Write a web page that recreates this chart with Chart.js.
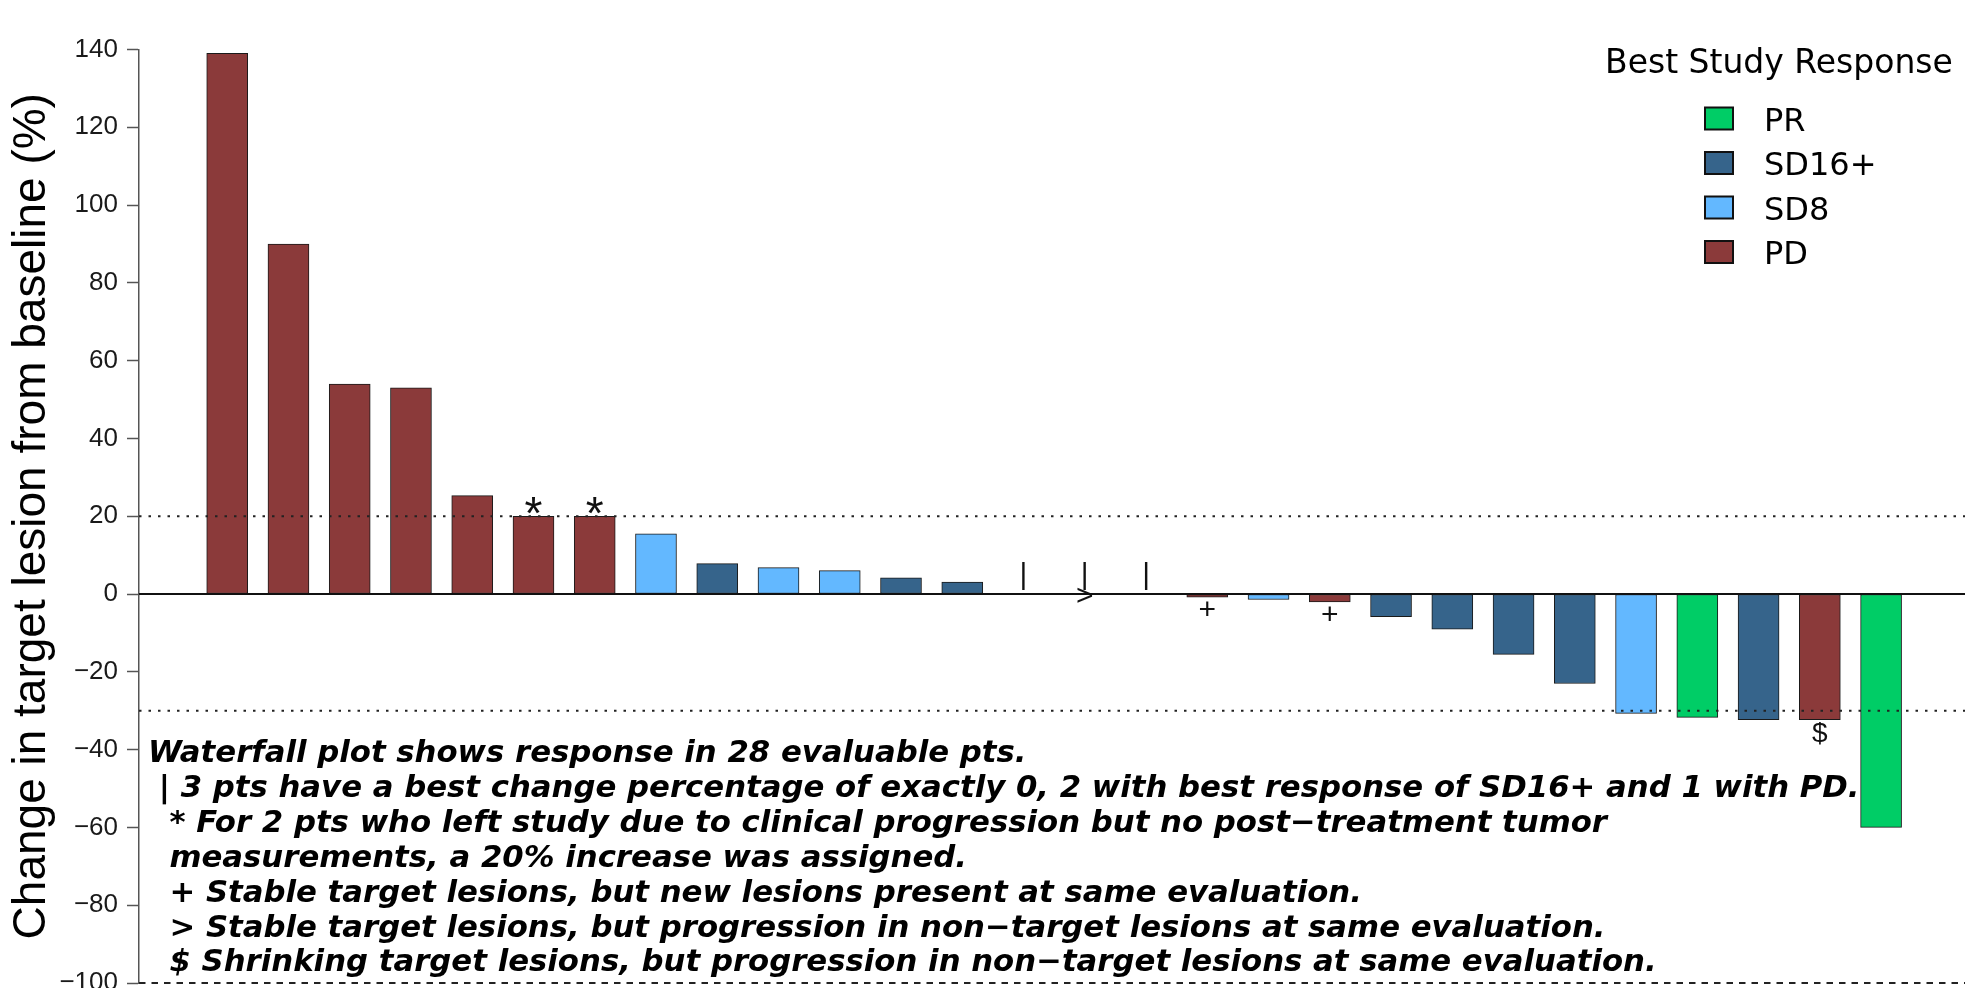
<!DOCTYPE html>
<html>
<head>
<meta charset="utf-8">
<script src="https://cdn.jsdelivr.net/npm/chart.js@4.4.1/dist/chart.umd.min.js"></script>
<style>
  html, body { margin: 0; padding: 0; background: #fff; overflow: hidden; }
  #wrap { position: relative; width: 1965px; height: 1010px; }
</style>
</head>
<body>
<div id="wrap"><canvas id="waterfall"></canvas></div>
<script>
(function() {
  'use strict';

  // one bar per evaluable patient, largest increase first
  var barValues = [139, 90, 54, 53, 25.3, 20, 20, 15.5, 7.8, 6.8, 6, 4.2, 3.1, 0, 0, 0,
                   -0.8, -1.4, -2, -5.8, -9, -15.5, -23, -30.7, -31.7, -32.3, -32.3, -60];
  var barGroups = ['PD', 'PD', 'PD', 'PD', 'PD', 'PD', 'PD', 'SD8', 'SD16+', 'SD8', 'SD8', 'SD16+', 'SD16+',
                   'SD16+', 'PD', 'SD16+',
                   'PD', 'SD8', 'PD', 'SD16+', 'SD16+', 'SD16+', 'SD16+', 'SD8', 'PR', 'SD16+', 'PD', 'PR'];
  // symbol at the end of each bar, and symbols sitting on the zero line
  var barMarks  = ['', '', '', '', '', '*', '*', '', '', '', '', '', '',
                   '|', '|', '|',
                   '+', '', '+', '', '', '', '', '', '', '', '$', ''];
  var zeroMarks = ['', '', '', '', '', '', '', '', '', '', '', '', '',
                   '', '>', '',
                   '', '', '', '', '', '', '', '', '', '', '', ''];

  var groups      = ['PR', 'SD16+', 'SD8', 'PD'];
  var groupColors = ['#00CD66', '#36648B', '#63B8FF', '#8B3A3A'];

  var yMin = -100, yMax = 140, yStep = 20;
  var refLines = [20, -30];   // progression / response thresholds

  var yTitle = 'Change in target lesion from baseline (%)';
  var legendTitle = 'Best Study Response';
  var footnotes = [
    'Waterfall plot shows response in 28 evaluable pts.',
    ' | 3 pts have a best change percentage of exactly 0, 2 with best response of SD16+ and 1 with PD.',
    '  * For 2 pts who left study due to clinical progression but no post\u2212treatment tumor',
    '  measurements, a 20% increase was assigned.',
    '  + Stable target lesions, but new lesions present at same evaluation.',
    '  > Stable target lesions, but progression in non\u2212target lesions at same evaluation.',
    '  $ Shrinking target lesions, but progression in non\u2212target lesions at same evaluation.'
  ];

  var SANS = "'Liberation Sans', Arial, sans-serif";
  var DEJAVU = "'DejaVu Sans', sans-serif";

  // font size and baseline offset (px from the bar end) for each symbol
  var markStyle = {
    '*': { size: 46, dy: 12.5 },
    '|': { size: 30, dy: -10 },
    '+': { size: 30, dy: 22 },
    '$': { size: 28, dy: 22 },
    '>': { size: 30, dy: 11 }
  };

  var datasets = groups.map(function(g, k) {
    var pts = [];
    barValues.forEach(function(v, i) {
      if (barGroups[i] === g) pts.push({ x: i + 1, y: v });
    });
    return {
      label: g,
      data: pts,
      backgroundColor: groupColors[k],
      borderColor: '#1a1a1a',
      borderWidth: 1,
      borderSkipped: false,
      barThickness: 41,
      grouped: false
    };
  });

  var overlay = {
    id: 'overlay',
    afterDatasetsDraw: function(chart) {
      var ctx = chart.ctx;
      var area = chart.chartArea;
      var xs = chart.scales.x, ys = chart.scales.y;
      var zero = ys.getPixelForValue(0);
      ctx.save();

      // dotted threshold lines
      ctx.strokeStyle = '#222';
      ctx.lineWidth = 2;
      ctx.setLineDash([2.5, 7]);
      refLines.forEach(function(v) {
        var py = ys.getPixelForValue(v);
        ctx.beginPath();
        ctx.moveTo(area.left, py);
        ctx.lineTo(area.right, py);
        ctx.stroke();
      });

      // dashed floor at the axis minimum
      ctx.setLineDash([6.5, 6]);
      ctx.beginPath();
      ctx.moveTo(area.left, ys.getPixelForValue(yMin));
      ctx.lineTo(area.right, ys.getPixelForValue(yMin));
      ctx.stroke();

      // zero line
      ctx.setLineDash([]);
      ctx.strokeStyle = '#111';
      ctx.lineWidth = 2;
      ctx.beginPath();
      ctx.moveTo(area.left, zero);
      ctx.lineTo(area.right, zero);
      ctx.stroke();

      // symbols on bars
      ctx.fillStyle = '#111';
      ctx.textAlign = 'center';
      ctx.textBaseline = 'alphabetic';
      barMarks.forEach(function(m, i) {
        if (!m) return;
        var st = markStyle[m];
        ctx.font = st.size + 'px ' + SANS;
        ctx.fillText(m, xs.getPixelForValue(i + 1), ys.getPixelForValue(barValues[i]) + st.dy);
      });
      zeroMarks.forEach(function(m, i) {
        if (!m) return;
        var st = markStyle[m];
        ctx.font = st.size + 'px ' + SANS;
        ctx.fillText(m, xs.getPixelForValue(i + 1), zero + st.dy);
      });

      // footnotes
      ctx.textAlign = 'left';
      ctx.fillStyle = '#000';
      ctx.font = 'italic bold 30.75px ' + DEJAVU;
      footnotes.forEach(function(line, k) {
        ctx.fillText(line, 148, 762 + k * 34.9);
      });

      // legend
      ctx.font = '33px ' + DEJAVU;
      ctx.fillText(legendTitle, 1605, 73);
      ctx.font = '32px ' + DEJAVU;
      chart.data.datasets.forEach(function(ds, k) {
        var top = 107.5 + k * 44.5;
        ctx.fillStyle = ds.backgroundColor;
        ctx.fillRect(1705, top, 28, 22);
        ctx.strokeStyle = '#111';
        ctx.lineWidth = 2;
        ctx.strokeRect(1705, top, 28, 22);
        ctx.fillStyle = '#000';
        ctx.fillText(ds.label, 1764, top + 23);
      });

      ctx.restore();
    }
  };

  new Chart(document.getElementById('waterfall'), {
    type: 'bar',
    data: { datasets: datasets },
    options: {
      responsive: true,
      maintainAspectRatio: false,
      animation: false,
      layout: { padding: { top: 49.5, bottom: 27, left: 0, right: 0 } },
      plugins: {
        legend: { display: false },
        tooltip: { enabled: false }
      },
      scales: {
        x: { type: 'linear', display: false, offset: false, min: -0.44, max: 29.37 },
        y: {
          min: yMin,
          max: yMax,
          afterFit: function(s) { s.width = 139; },
          border: { display: true, color: '#555', width: 1.5 },
          grid: { drawOnChartArea: false, drawTicks: true, tickLength: 12, tickColor: '#555', tickWidth: 1.5 },
          ticks: {
            stepSize: yStep,
            padding: 9,
            color: '#1a1a1a',
            font: { family: SANS, size: 26 },
            callback: function(v) { return String(v).replace('-', '\u2212'); }
          },
          title: {
            display: true,
            text: yTitle,
            color: '#000',
            font: { family: SANS, size: 46 },
            padding: { top: 5, bottom: 0 }
          }
        }
      }
    },
    plugins: [overlay]
  });
})();
</script>
</body>
</html>
